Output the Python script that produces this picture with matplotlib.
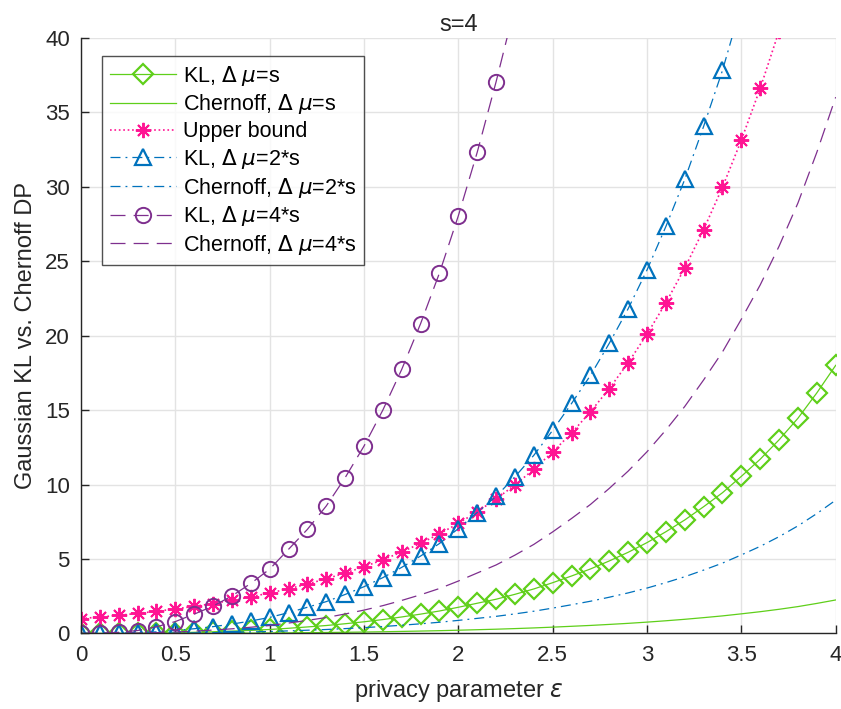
import numpy as np
import matplotlib
matplotlib.use("Agg")
import matplotlib.pyplot as plt

plt.rcParams["font.family"] = ["Liberation Sans", "DejaVu Sans"]
plt.rcParams["mathtext.fontset"] = "dejavusans"

# ----------------------------------------------------------------------
# datos (eps = 0:0.1:4)
# ----------------------------------------------------------------------
eps = np.round(np.arange(0, 4.01, 0.1), 1)

kl_s = [0, 0.002, 0.006, 0.014, 0.028, 0.05, 0.08, 0.115, 0.157, 0.21,
        0.27, 0.35, 0.44, 0.535, 0.655, 0.785, 0.935, 1.11, 1.30, 1.51,
        1.76, 2.03, 2.30, 2.63, 2.99, 3.41, 3.86, 4.33, 4.87, 5.45,
        6.10, 6.83, 7.62, 8.51, 9.45, 10.55, 11.70, 13.00, 14.45, 16.15, 18.00]
cher_s = [0, 0.0003, 0.001, 0.002, 0.004, 0.006, 0.01, 0.014, 0.02, 0.026,
          0.034, 0.044, 0.055, 0.067, 0.082, 0.098, 0.117, 0.139, 0.163, 0.189,
          0.22, 0.254, 0.288, 0.329, 0.374, 0.426, 0.483, 0.541, 0.609, 0.681,
          0.763, 0.854, 0.953, 1.064, 1.181, 1.319, 1.463, 1.625, 1.806, 2.019, 2.25]
upper = [1.00, 1.11, 1.22, 1.35, 1.49, 1.65, 1.82, 2.01, 2.23, 2.46,
         2.72, 3.00, 3.32, 3.67, 4.06, 4.48, 4.95, 5.47, 6.05, 6.69,
         7.39, 8.17, 9.03, 9.97, 11.02, 12.18, 13.46, 14.88, 16.44, 18.17,
         20.09, 22.20, 24.53, 27.11, 29.96, 33.12, 36.60, 40.45]
kl_2s = [0, 0.01, 0.02, 0.06, 0.11, 0.2, 0.32, 0.46, 0.63, 0.84,
         1.08, 1.40, 1.76, 2.14, 2.62, 3.14, 3.75, 4.44, 5.20, 6.04,
         7.04, 8.12, 9.20, 10.52, 11.96, 13.64, 15.44, 17.32, 19.48, 21.80,
         24.40, 27.32, 30.48, 34.04, 37.80, 42.20]
cher_2s = [0, 0.001, 0.003, 0.007, 0.014, 0.025, 0.04, 0.058, 0.079, 0.105,
           0.135, 0.175, 0.22, 0.268, 0.328, 0.393, 0.468, 0.555, 0.65, 0.755,
           0.88, 1.015, 1.15, 1.315, 1.495, 1.705, 1.93, 2.165, 2.435, 2.725,
           3.05, 3.415, 3.81, 4.255, 4.725, 5.275, 5.85, 6.5, 7.225, 8.05, 8.95]
kl_4s = [0, 0.02, 0.08, 0.20, 0.45, 0.80, 1.30, 1.84, 2.52, 3.36,
         4.32, 5.65, 6.99, 8.56, 10.46, 12.58, 15.00, 17.73, 20.80, 24.20,
         28.04, 32.30, 37.03, 42.10]
cher_4s = [0, 0.004, 0.012, 0.028, 0.056, 0.1, 0.16, 0.23, 0.314, 0.42,
           0.54, 0.70, 0.88, 1.07, 1.31, 1.57, 1.87, 2.22, 2.60, 3.02,
           3.52, 4.06, 4.60, 5.26, 5.98, 6.82, 7.72, 8.66, 9.74, 10.90,
           12.20, 13.66, 15.24, 17.02, 18.90, 21.10, 23.40, 26.00, 28.90, 32.30, 36.00]

green = "#5fcf1a"
pink = "#ff1493"
blue = "#0072bd"
purple = "#7e2f8e"

fig = plt.figure(figsize=(8.41, 7.09), dpi=100)
ax = fig.add_axes([0.0963, 0.1065, 0.8974, 0.8405])

lw = 0.9
dd = (8, 4, 1.5, 4)      # dash-dot
da = (12, 6.5)           # dashed
ax.plot(eps, kl_s, "-", color=green, lw=lw, marker="D", ms=10, mfc="none", mew=1.6,
        label=r"KL, $\Delta$ $\mu$=s")
ax.plot(eps, cher_s, "-", color=green, lw=lw, label=r"Chernoff, $\Delta$ $\mu$=s")
ax.plot(eps[:len(upper)], upper, ":", color=pink, lw=1.2, marker=(8, 2, 0), ms=11, mew=1.4,
        label="Upper bound")
ax.plot(eps[:len(kl_2s)], kl_2s, color=blue, lw=lw, dashes=dd, marker="^", ms=12,
        mfc="none", mew=1.6, label=r"KL, $\Delta$ $\mu$=2*s")
ax.plot(eps, cher_2s, color=blue, lw=lw, dashes=dd, label=r"Chernoff, $\Delta$ $\mu$=2*s")
ax.plot(eps[:len(kl_4s)], kl_4s, color=purple, lw=lw, dashes=da, marker="o", ms=11,
        mfc="none", mew=1.4, label=r"KL, $\Delta$ $\mu$=4*s")
ax.plot(eps, cher_4s, color=purple, lw=lw, dashes=da,
        label=r"Chernoff, $\Delta$ $\mu$=4*s")

ax.set_xlim(0, 4)
ax.set_ylim(0, 40)
ax.set_xticks(np.arange(0, 4.01, 0.5))
ax.set_xticklabels(["0", "0.5", "1", "1.5", "2", "2.5", "3", "3.5", "4"])
ax.set_yticks(np.arange(0, 41, 5))
ax.grid(True, color="#e3e3e3", lw=1.0)
ax.set_axisbelow(True)
for side in ["top", "right"]:
    ax.spines[side].set_visible(False)
for side in ["left", "bottom"]:
    ax.spines[side].set_color("#262626")
    ax.spines[side].set_linewidth(1.0)
ax.tick_params(direction="in", length=6, width=1.0, colors="#262626", labelsize=16, pad=8)

ax.set_xlabel(r"privacy parameter $\epsilon$", fontsize=17, color="#262626", labelpad=9)
ax.set_ylabel("Gaussian KL vs. Chernoff DP", fontsize=17, color="#262626", labelpad=6)
ax.set_title("s=4", fontsize=17, color="#262626", pad=5)

leg = ax.legend(loc="upper left", bbox_to_anchor=(0.028, 0.969), fontsize=15.5, frameon=True,
                fancybox=False, edgecolor="#262626", handlelength=3.1, labelspacing=0.22,
                borderpad=0.35, handletextpad=0.3, borderaxespad=0)
leg.get_frame().set_linewidth(1.0)

fig.savefig("out.png", dpi=100)
